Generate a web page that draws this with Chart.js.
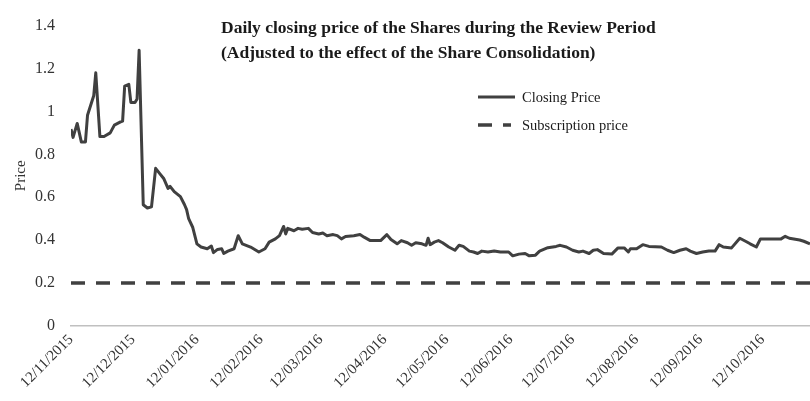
<!DOCTYPE html>
<html>
<head>
<meta charset="utf-8">
<script src="https://cdn.jsdelivr.net/npm/chart.js@4.4.0/dist/chart.umd.min.js"></script>
<style>
    html, body { margin: 0; padding: 0; background: #fff; }
</style>
</head>
<body>
<canvas id="priceChart" width="810" height="401"></canvas>
<script>
// Days counted from 12/11/2015 (first trading day shown)
const daysFromStart = [
    0, 1, 3, 5, 7, 8, 11, 12, 14, 16, 19, 21, 24, 25, 26, 28, 29, 31, 32, 33,
    35, 37, 39, 41, 43, 45, 47, 48, 50, 53, 55, 56, 57, 59, 61, 63, 66, 68, 69, 71,
    73, 74, 76, 79, 81, 83, 87, 91, 94, 96, 99, 101, 103, 104, 105, 108, 110, 112, 115, 117,
    120, 122, 124, 127, 129, 131, 133, 137, 140, 142, 145, 150, 153, 155, 158, 160, 163, 165, 167, 170,
    172, 173, 174, 176, 178, 180, 183, 186, 188, 190, 193, 195, 197, 199, 202, 205, 208, 212, 214, 217,
    220, 222, 225, 227, 231, 235, 237, 240, 243, 246, 248, 251, 253, 255, 258, 262, 265, 268, 270, 271,
    274, 277, 280, 286, 289, 292, 295, 298, 300, 303, 306, 309, 312, 314, 316, 320, 324, 327, 329, 332,
    334, 339, 344, 346, 348, 353, 355, 358
];

const closingPrice = [
    0.918, 0.879, 0.944, 0.858, 0.858, 0.982, 1.073, 1.18, 0.883, 0.883, 0.90, 0.936, 0.951, 0.955, 1.118, 1.126, 1.042, 1.042, 1.058, 1.285,
    0.565, 0.55, 0.555, 0.735, 0.71, 0.686, 0.641, 0.651, 0.626, 0.603, 0.565, 0.542, 0.50, 0.459, 0.383, 0.368, 0.36, 0.373, 0.342, 0.357,
    0.36, 0.338, 0.349, 0.36, 0.421, 0.383, 0.368, 0.345, 0.36, 0.391, 0.406, 0.421, 0.464, 0.429, 0.455, 0.444, 0.455, 0.451, 0.455, 0.436,
    0.429, 0.433, 0.421, 0.426, 0.421, 0.406, 0.417, 0.421, 0.426, 0.414, 0.398, 0.398, 0.426, 0.403, 0.383, 0.398, 0.388, 0.376, 0.388, 0.383,
    0.376, 0.409, 0.379, 0.391, 0.398, 0.388, 0.368, 0.353, 0.376, 0.371, 0.349, 0.345, 0.338, 0.349, 0.345, 0.35, 0.345, 0.345, 0.327, 0.335,
    0.338, 0.327, 0.33, 0.349, 0.365, 0.371, 0.376, 0.368, 0.353, 0.345, 0.349, 0.338, 0.353, 0.356, 0.338, 0.335, 0.364, 0.364, 0.345, 0.36,
    0.36, 0.379, 0.371, 0.368, 0.353, 0.342, 0.353, 0.36, 0.349, 0.338, 0.345, 0.35, 0.349, 0.379, 0.368, 0.364, 0.409, 0.394, 0.383, 0.368,
    0.406, 0.406, 0.406, 0.418, 0.409, 0.401, 0.395, 0.383
];

const subscriptionPrice = 0.2;

const tickDays = [0, 30, 61, 92, 121, 152, 182, 213, 243, 274, 305, 335];
const tickLabels = [
    '12/11/2015', '12/12/2015', '12/01/2016', '12/02/2016', '12/03/2016', '12/04/2016',
    '12/05/2016', '12/06/2016', '12/07/2016', '12/08/2016', '12/09/2016', '12/10/2016'
];

const titleLines = [
    'Daily closing price of the Shares during the Review Period',
    '(Adjusted to the effect of the Share Consolidation)'
];

const FONT = '"Liberation Serif", "Times New Roman", serif';
const LINE_COLOR = '#404040';
const LAST_DAY = 358;

// title and legend sit inside the plot, like the original
const overlayPlugin = {
    id: 'overlay',
    afterDraw(chart) {
        const ctx = chart.ctx;
        ctx.save();
        ctx.fillStyle = '#1a1a1a';
        ctx.font = `bold 17.5px ${FONT}`;
        ctx.textBaseline = 'alphabetic';
        ctx.fillText(titleLines[0], 221, 33);
        ctx.fillText(titleLines[1], 221, 58);

        chart.data.datasets.forEach((ds, i) => {
            const y = 97 + i * 28;
            ctx.strokeStyle = ds.borderColor;
            ctx.lineWidth = ds.borderWidth;
            ctx.setLineDash(ds.borderDash || []);
            ctx.beginPath();
            ctx.moveTo(478, y);
            ctx.lineTo(i === 0 ? 515 : 511, y);
            ctx.stroke();
            ctx.setLineDash([]);
            ctx.fillStyle = '#1a1a1a';
            ctx.font = `14.5px ${FONT}`;
            ctx.textBaseline = 'middle';
            ctx.fillText(ds.label, 522, y + 1);
        });
        ctx.restore();
    }
};

new Chart(document.getElementById('priceChart'), {
    type: 'line',
    data: {
        datasets: [
            {
                label: 'Closing Price',
                data: daysFromStart.map((d, i) => ({ x: d, y: closingPrice[i] })),
                borderColor: LINE_COLOR,
                borderWidth: 3,
                borderJoinStyle: 'round',
                pointRadius: 0,
                tension: 0
            },
            {
                label: 'Subscription price',
                data: [{ x: 0, y: subscriptionPrice }, { x: LAST_DAY, y: subscriptionPrice }],
                borderColor: LINE_COLOR,
                borderWidth: 3.5,
                borderDash: [14, 11],
                pointRadius: 0
            }
        ]
    },
    options: {
        responsive: false,
        animation: false,
        layout: { padding: { top: 18, right: 0, left: 0, bottom: 0 } },
        plugins: {
            legend: { display: false },
            title: { display: false },
            tooltip: { enabled: false }
        },
        scales: {
            x: {
                type: 'linear',
                min: 0,
                max: LAST_DAY,
                grid: { display: false, drawTicks: false },
                border: { display: true, color: '#c0c0c0', width: 1.5 },
                afterBuildTicks: (scale) => {
                    scale.ticks = tickDays.map(v => ({ value: v }));
                },
                afterFit: (scale) => { scale.height = 75; },
                ticks: {
                    autoSkip: false,
                    minRotation: 45,
                    maxRotation: 45,
                    padding: 5,
                    color: '#333',
                    font: { family: FONT, size: 15 },
                    callback: (value, index) => tickLabels[index]
                }
            },
            y: {
                min: 0,
                max: 1.4,
                grid: { display: false, drawTicks: false },
                border: { display: false },
                afterFit: (scale) => { scale.width = 71; },
                title: {
                    display: true,
                    text: 'Price',
                    color: '#333',
                    font: { family: FONT, size: 15 },
                    padding: { top: 12, bottom: 0 }
                },
                ticks: {
                    stepSize: 0.2,
                    padding: 16,
                    color: '#333',
                    font: { family: FONT, size: 16 },
                    callback: (value) => String(+value.toFixed(1))
                }
            }
        }
    },
    plugins: [overlayPlugin]
});
</script>
</body>
</html>
